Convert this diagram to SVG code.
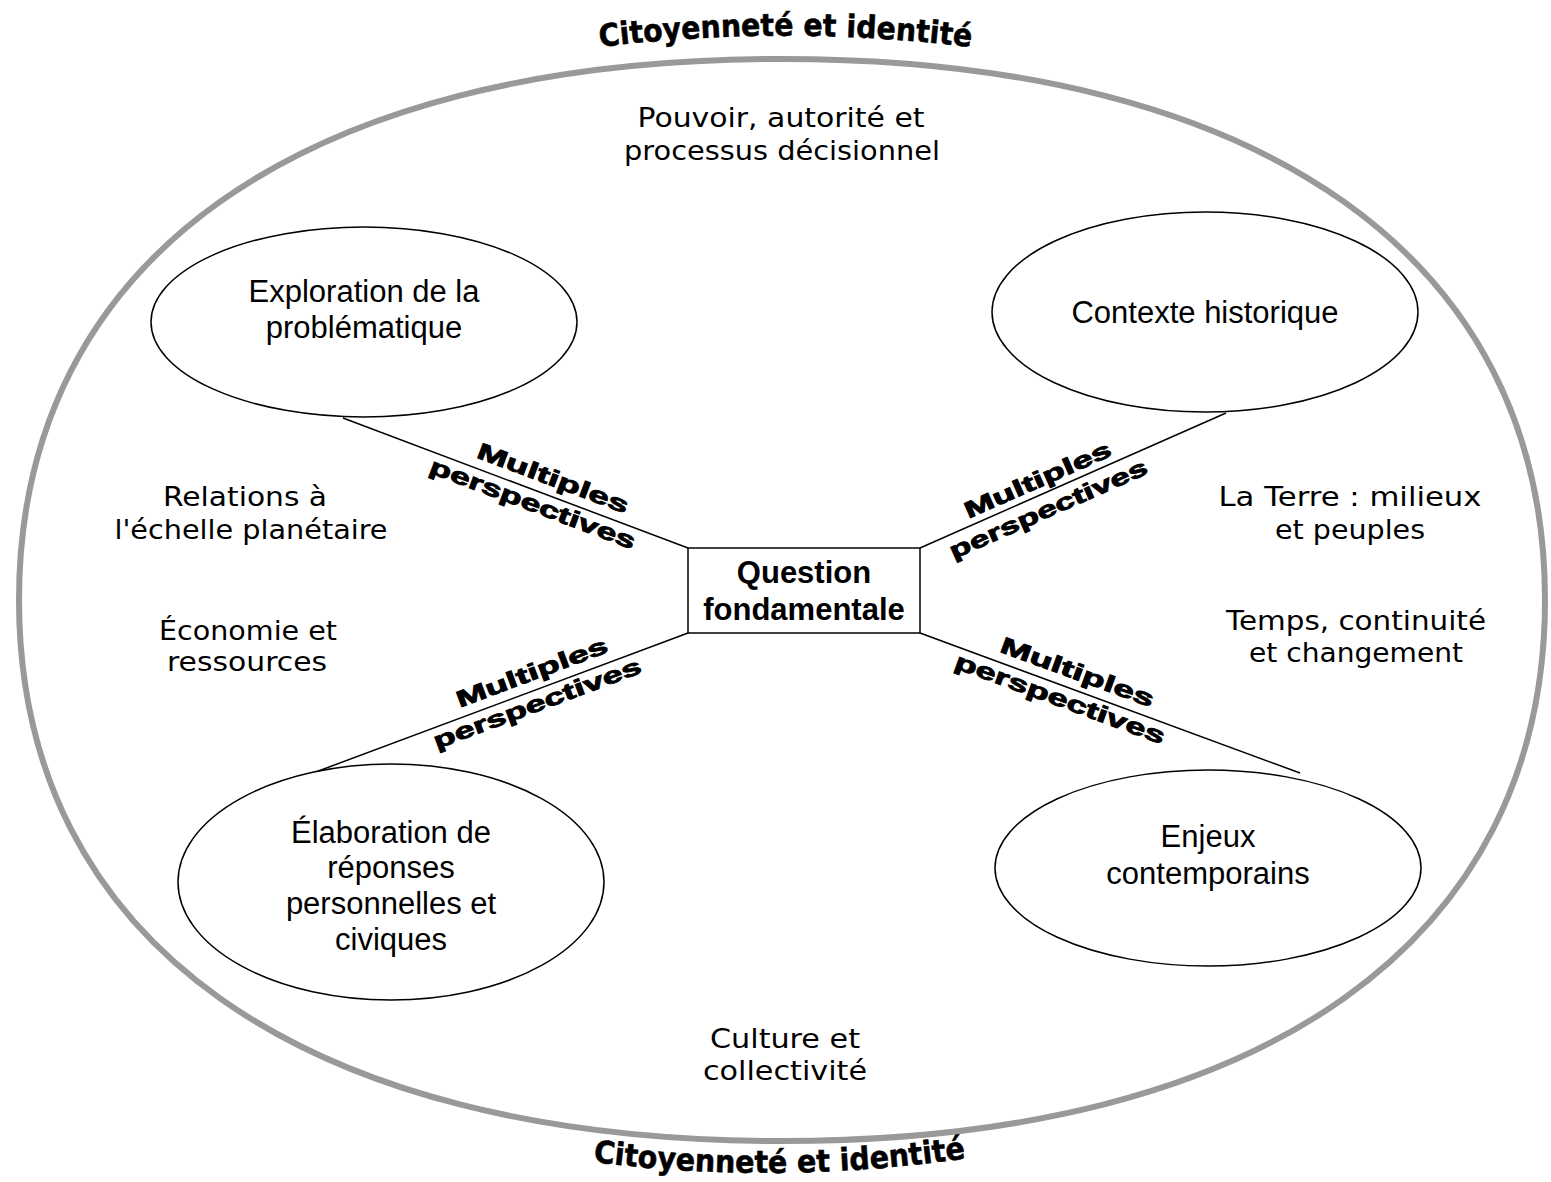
<svg xmlns="http://www.w3.org/2000/svg" xmlns:xlink="http://www.w3.org/1999/xlink" width="1551" height="1182" viewBox="0 0 1551 1182">
<style>
.bg{fill:#fff}
.outer{fill:none;stroke:#999;stroke-width:6}
.node{fill:#fff;stroke:#000;stroke-width:1.5}
.conn{stroke:#000;stroke-width:1.5;fill:none}
.ar{font-family:"Liberation Sans",Arial,sans-serif;font-size:31px;fill:#000;text-anchor:middle}
.bold{font-weight:bold}
.cm{font-family:"Comic Sans MS","DejaVu Sans",sans-serif;font-size:26px;fill:#000;text-anchor:middle}
.title{font-family:"Comic Sans MS","DejaVu Sans",sans-serif;font-size:31px;font-weight:bold;fill:#000;stroke:#000;stroke-width:0.6}
.mp{font-family:"Liberation Sans",Arial,sans-serif;font-size:23px;font-weight:bold;fill:#000;stroke:#000;stroke-width:0.9;text-anchor:middle}
</style>
<defs>
<path id="arcTop" d="M600,47 Q790,24 978,48"/>
<path id="arcBot" d="M593,1162 Q783,1186 975,1157"/>
</defs>
<rect class="bg" x="0" y="0" width="1551" height="1182"/>
<g id="frame">
<path class="outer" d="M1545,600 C1545,259 1263,59 782,59 C301,59 19,259 19,600 C19,941 301,1141 782,1141 C1263,1141 1545,941 1545,600 Z"/>
<text class="title" textLength="372" lengthAdjust="spacingAndGlyphs"><textPath xlink:href="#arcTop" href="#arcTop">Citoyenneté et identité</textPath></text>
<text class="title" textLength="374" lengthAdjust="spacingAndGlyphs"><textPath xlink:href="#arcBot" href="#arcBot">Citoyenneté et identité</textPath></text>
</g>
<g id="themes">
<text class="cm" x="781" y="127" textLength="287" lengthAdjust="spacingAndGlyphs">Pouvoir, autorité et</text>
<text class="cm" x="782" y="160" textLength="316" lengthAdjust="spacingAndGlyphs">processus décisionnel</text>
<text class="cm" x="245" y="506" textLength="164" lengthAdjust="spacingAndGlyphs">Relations à</text>
<text class="cm" x="251" y="539" textLength="273" lengthAdjust="spacingAndGlyphs">l'échelle planétaire</text>
<text class="cm" x="248" y="640" textLength="178" lengthAdjust="spacingAndGlyphs">Économie et</text>
<text class="cm" x="247" y="671" textLength="160" lengthAdjust="spacingAndGlyphs">ressources</text>
<text class="cm" x="1350" y="506" textLength="263" lengthAdjust="spacingAndGlyphs">La Terre : milieux</text>
<text class="cm" x="1350" y="539" textLength="150" lengthAdjust="spacingAndGlyphs">et peuples</text>
<text class="cm" x="1356" y="630" textLength="260" lengthAdjust="spacingAndGlyphs">Temps, continuité</text>
<text class="cm" x="1356" y="662" textLength="214" lengthAdjust="spacingAndGlyphs">et changement</text>
<text class="cm" x="785" y="1048" textLength="150" lengthAdjust="spacingAndGlyphs">Culture et</text>
<text class="cm" x="785" y="1080" textLength="164" lengthAdjust="spacingAndGlyphs">collectivité</text>
</g>
<g id="connectors">
<line class="conn" x1="343" y1="418" x2="688" y2="548"/>
<line class="conn" x1="1226" y1="413" x2="920" y2="548"/>
<line class="conn" x1="313" y1="773" x2="688" y2="633"/>
<line class="conn" x1="1300" y1="773" x2="920" y2="633"/>
<g transform="translate(545,494.1) rotate(20.65)">
<text class="mp" x="2" y="-10" textLength="160" lengthAdjust="spacingAndGlyphs">Multiples</text>
<text class="mp" x="-8" y="21" textLength="218" lengthAdjust="spacingAndGlyphs">perspectives</text>
</g>
<g transform="translate(1040,495) rotate(-23.8)">
<text class="mp" x="4" y="-7" textLength="158" lengthAdjust="spacingAndGlyphs">Multiples</text>
<text class="mp" x="2" y="24" textLength="214" lengthAdjust="spacingAndGlyphs">perspectives</text>
</g>
<g transform="translate(540,688.3) rotate(-20.5)">
<text class="mp" x="-2" y="-10" textLength="160" lengthAdjust="spacingAndGlyphs">Multiples</text>
<text class="mp" x="-8" y="21" textLength="220" lengthAdjust="spacingAndGlyphs">perspectives</text>
</g>
<g transform="translate(1060,684.6) rotate(20.2)">
<text class="mp" x="12" y="-10" textLength="162" lengthAdjust="spacingAndGlyphs">Multiples</text>
<text class="mp" x="5" y="21" textLength="222" lengthAdjust="spacingAndGlyphs">perspectives</text>
</g>
</g>
<g id="question">
<rect class="node" x="688" y="548" width="232" height="85"/>
<text class="ar bold" x="804" y="583">Question</text>
<text class="ar bold" x="804" y="620">fondamentale</text>
</g>
<g id="exploration">
<ellipse class="node" cx="364" cy="322" rx="213" ry="95"/>
<text class="ar" x="364" y="302">Exploration de la</text>
<text class="ar" x="364" y="338">problématique</text>
</g>
<g id="contexte">
<ellipse class="node" cx="1205" cy="312" rx="213" ry="100"/>
<text class="ar" x="1205" y="323">Contexte historique</text>
</g>
<g id="elaboration">
<ellipse class="node" cx="391" cy="882" rx="213" ry="118"/>
<text class="ar" x="391" y="843">Élaboration de</text>
<text class="ar" x="391" y="878">réponses</text>
<text class="ar" x="391" y="914">personnelles et</text>
<text class="ar" x="391" y="950">civiques</text>
</g>
<g id="enjeux">
<ellipse class="node" cx="1208" cy="868" rx="213" ry="98"/>
<text class="ar" x="1208" y="847">Enjeux</text>
<text class="ar" x="1208" y="884">contemporains</text>
</g>
</svg>
